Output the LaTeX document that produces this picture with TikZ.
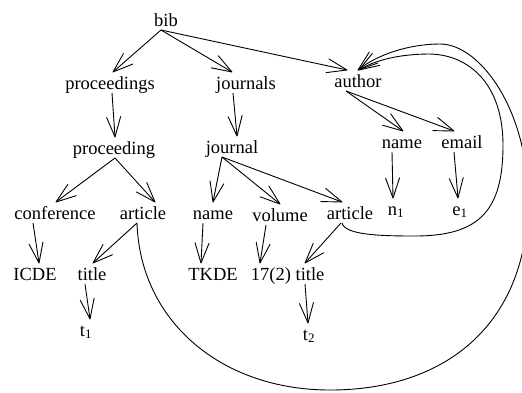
\documentclass[tikz,border=0pt]{standalone}
\usepackage{fontspec}
\setmainfont{Liberation Serif}
\usetikzlibrary{arrows.meta}
\pgfdeclarearrow{
  name = Chev,
  defaults = {length = 17pt, width = 14pt},
  setup code = {
    \pgfarrowssettipend{0pt}
    \pgfarrowssetlineend{-0.5\pgflinewidth}
    \pgfarrowssetbackend{-\pgfarrowlength}
    \pgfarrowshullpoint{0pt}{0pt}
    \pgfarrowsupperhullpoint{-\pgfarrowlength}{0.5\pgfarrowwidth}
    \pgfarrowssavethe\pgfarrowlength
    \pgfarrowssavethe\pgfarrowwidth
  },
  drawing code = {
    \pgfsetdash{}{0pt}
    \pgfsetroundjoin
    \pgfsetroundcap
    \pgfpathmoveto{\pgfqpoint{-\pgfarrowlength}{0.5\pgfarrowwidth}}
    \pgfpathlineto{\pgfqpoint{0pt}{0pt}}
    \pgfpathlineto{\pgfqpoint{-\pgfarrowlength}{-0.5\pgfarrowwidth}}
    \pgfusepathqstroke
  },
  parameters = {\the\pgfarrowlength,\the\pgfarrowwidth},
}
\begin{document}
\begin{tikzpicture}[x=1pt,y=-1pt,
  lbl/.style={anchor=base, inner sep=0pt, outer sep=0pt, text height=17pt, text depth=4pt, font=\fontsize{18.5}{20}\selectfont},
  edge/.style={line width=0.9pt, -{Chev[length=20pt,width=14pt]}},
]
\useasboundingbox (0,0) rectangle (522,392);
% nodes
\node[lbl] (bib) at (166,26) {bib};
\node[lbl] (proceedings) at (110,89) {proceedings};
\node[lbl] (journals) at (246,89) {journals};
\node[lbl] (author) at (358,87) {author};
\node[lbl] (proceeding) at (114,154) {proceeding};
\node[lbl] (journal) at (232,153) {journal};
\node[lbl] (nameA) at (402,148) {name};
\node[lbl] (email) at (462,148) {email};
\node[lbl] (conference) at (55,219) {conference};
\node[lbl] (articleA) at (143,219) {article};
\node[lbl] (nameB) at (213,219) {name};
\node[lbl] (volume) at (280,221) {volume};
\node[lbl] (articleB) at (350,219) {article};
\node[lbl] (nA) at (396,215) {n\textsubscript{1}};
\node[lbl] (eA) at (460,215) {e\textsubscript{1}};
\node[lbl] (icde) at (35,280) {ICDE};
\node[lbl] (titleA) at (92,280) {title};
\node[lbl] (tkde) at (213,280) {TKDE};
\node[lbl] (vol) at (271,280) {17(2)};
\node[lbl] (titleB) at (310,280) {title};
\node[lbl] (tA) at (86,336) {t\textsubscript{1}};
\node[lbl] (tB) at (309,340) {t\textsubscript{2}};
% tree edges
\draw[edge] ([xshift=-5pt]bib.south) -- ([xshift=3pt]proceedings.north);
\draw[edge] ([xshift=-5pt]bib.south) -- ([xshift=-14pt]journals.north);
\draw[edge] ([xshift=-5pt]bib.south) -- ([xshift=-11pt]author.north);
\draw[edge] ([xshift=2pt]proceedings.south) -- ([xshift=1pt]proceeding.north);
\draw[edge] ([xshift=-13pt]journals.south) -- ([xshift=5pt]journal.north);
\draw[edge] ([xshift=-12pt]author.south) -- ([xshift=1pt]nameA.north);
\draw[edge] ([xshift=-12pt]author.south) -- ([xshift=-8pt]email.north);
\draw[edge] ([xshift=1pt]proceeding.south) -- ([xshift=1pt]conference.north);
\draw[edge] ([xshift=1pt]proceeding.south) -- ([xshift=12pt]articleA.north);
\draw[edge] ([xshift=-10pt]journal.south) -- (nameB.north);
\draw[edge] ([xshift=-10pt]journal.south) -- (volume.north);
\draw[edge] ([xshift=-10pt]journal.south) -- ([xshift=-8pt]articleB.north);
\draw[edge] ([xshift=-10pt]nameA.south) -- ([xshift=-3pt]nA.north);
\draw[edge] ([xshift=-8pt]email.south) -- ([xshift=-2pt]eA.north);
\draw[edge] ([xshift=-22pt]conference.south) -- ([xshift=4pt]icde.north);
\draw[edge] ([xshift=-6pt]articleA.south) -- ([xshift=1pt]titleA.north);
\draw[edge] ([xshift=-10pt]nameB.south) -- ([xshift=-12pt]tkde.north);
\draw[edge] ([xshift=-14pt]volume.south) -- ([xshift=-11pt]vol.north);
\draw[edge] ([xshift=-9pt]articleB.south) -- ([xshift=-5pt]titleB.north);
\draw[edge] ([xshift=-7pt]titleA.south) -- ([xshift=4pt]tA.north);
\draw[edge] ([xshift=-5pt]titleB.south) -- ([xshift=-1pt]tB.north);
% reference curves
\draw[edge] ([xshift=-6pt]articleA.south) .. controls (140,320) and (220,390) .. (330,390)
  .. controls (450,390) and (528,320) .. (528,200)
  .. controls (528,110) and (480,44) .. (440,44)
  .. controls (410,44) and (378,54) .. (author.north);
\draw[edge] ([xshift=-8pt]articleB.south) .. controls (345,235) and (380,236) .. (415,236)
  .. controls (480,236) and (503,210) .. (503,145)
  .. controls (503,85) and (470,55) .. (430,54)
  .. controls (400,54) and (375,60) .. ([xshift=1pt]author.north);
\end{tikzpicture}
\end{document}
